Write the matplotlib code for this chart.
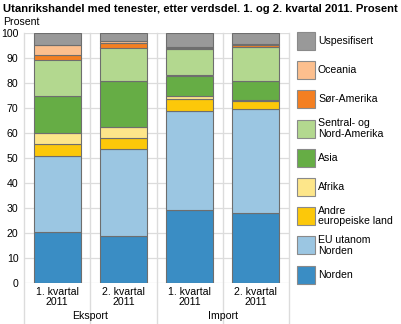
import matplotlib.pyplot as plt
from matplotlib.patches import Rectangle
from matplotlib.lines import Line2D

plt.rcParams['font.family'] = ['Liberation Sans', 'DejaVu Sans']

# categories (bottom of the stack first)
quarters = ['1. kvartal\n2011', '2. kvartal\n2011', '1. kvartal\n2011', '2. kvartal\n2011']
groups = ['Eksport', 'Import']

series = ['Norden', 'EU utanom\nNorden', 'Andre\neuropeiske land', 'Afrika', 'Asia',
          'Sentral- og\nNord-Amerika', 'Sør-Amerika', 'Oceania', 'Uspesifisert']
norden = [20.6, 19.0, 29.2, 27.9]
eu = [30.1, 34.5, 39.5, 41.6]
andre_eur = [4.9, 4.7, 4.9, 3.3]
afrika = [4.3, 4.1, 1.0, 0.4]
asia = [15.1, 18.7, 8.4, 7.6]
sentral_nord_am = [14.4, 13.2, 10.4, 13.7]
sor_am = [2.0, 1.8, 0.6, 0.6]
oceania = [3.7, 0.7, 0.4, 0.4]
uspes = [4.9, 3.3, 5.6, 4.5]
values = [norden, eu, andre_eur, afrika, asia, sentral_nord_am, sor_am, oceania, uspes]

colors = ['#3a8dc4', '#9bc6e2', '#fcc80a', '#fde68a', '#66ad45',
          '#b3d88f', '#f47f21', '#fcbf8e', '#999999']

W, H = 401, 324
fig = plt.figure(figsize=(W / 100, H / 100), dpi=100)
ax = fig.add_axes([24 / W, 41 / H, 265 / W, 250 / H])

x = list(range(len(quarters)))
bottom = [0.0] * len(x)
for vals, c in zip(values, colors):
    ax.bar(x, vals, width=0.71, bottom=bottom, color=c, edgecolor='#6e6e6e',
           linewidth=0.8, zorder=3)
    bottom = [b + v for b, v in zip(bottom, vals)]

ax.set_xlim(-0.5, 3.5)
ax.set_ylim(0, 100)
ax.set_yticks(range(0, 101, 10))
ax.set_xticks(x)
ax.set_xticklabels(quarters, fontsize=7.6, linespacing=1.0)
ax.tick_params(axis='both', length=0, labelsize=7.6, pad=3)
ax.tick_params(axis='y', pad=4)
for s in ax.spines.values():
    s.set_visible(False)
ax.grid(axis='y', color='#dcdcdc', linewidth=0.9, zorder=0)

# vertical separators between categories, running below the axis
for xb in [-0.5, 0.5, 1.5, 2.5, 3.5]:
    ax.add_line(Line2D([xb, xb], [-16.5, 100], color='#dcdcdc', linewidth=1.0,
                       clip_on=False, zorder=1))

for gi, g in enumerate(groups):
    ax.text(0.5 + 2 * gi, -13.2, g, ha='center', va='center', fontsize=7.6)

fig.text(3 / W, 1 - 8.5 / H, 'Utanrikshandel med tenester, etter verdsdel. 1. og 2. kvartal 2011. Prosent',
         fontsize=8.1, fontweight='bold', va='center', ha='left')
fig.text(3 / W, 1 - 22 / H, 'Prosent', fontsize=7.6, va='center', ha='left')

# legend, top entry first
for k, (name, c) in enumerate(zip(series[::-1], colors[::-1])):
    top = 32 + 29.2 * k
    fig.patches.append(Rectangle((297 / W, 1 - (top + 18) / H), 18 / W, 18 / H,
                                 transform=fig.transFigure, facecolor=c,
                                 edgecolor='#8a8a8a', linewidth=0.8))
    fig.text(318 / W, 1 - (top + 9) / H, name, fontsize=7.6, va='center', ha='left',
             linespacing=1.05)

fig.savefig('out.png', dpi=100)
